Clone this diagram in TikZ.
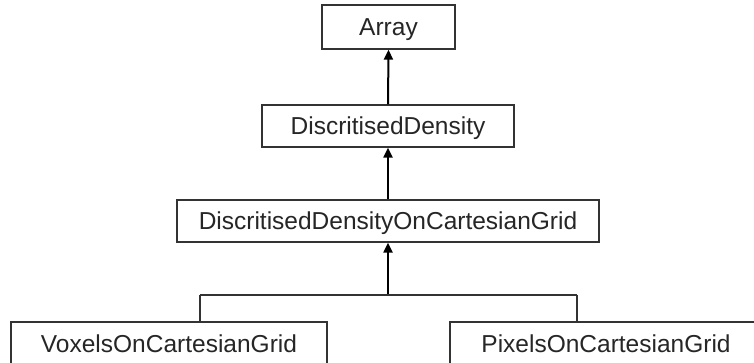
\documentclass[tikz,border=0pt]{standalone}
\usepackage{fontspec}
\setmainfont{Liberation Sans}
\usetikzlibrary{arrows.meta}
\tikzset{
  cls/.style={draw=black!80, line width=1.2pt, fill=white, inner sep=0pt,
    text height=17.5pt, text depth=0pt,
    font=\fontsize{24.5}{28}\selectfont, text=black!85},
  inh/.style={line width=2pt, -{Triangle[length=10pt,width=9pt]}},
  link/.style={draw=black!80, line width=1.2pt}
}
\begin{document}
\begin{tikzpicture}[x=1pt,y=-1pt]
\clip (0,0) rectangle (754,362);
\fill[white] (0,0) rectangle (754,362);
\node[cls, minimum width=133pt, minimum height=44pt] (arr) at (388.5,27) {Array};
\node[cls, minimum width=252pt, minimum height=42pt] (dd) at (388,126) {DiscritisedDensity};
\node[cls, minimum width=422pt, minimum height=42pt] (ddc) at (388,221) {DiscritisedDensityOnCartesianGrid};
\node[cls, minimum width=316pt, minimum height=44pt] (vox) at (169,344) {VoxelsOnCartesianGrid};
\node[cls, minimum width=312pt, minimum height=44pt] (pix) at (606,344) {PixelsOnCartesianGrid};
\coordinate (j) at (388,295);
\coordinate (jl) at (200,295);
\coordinate (jr) at (577,295);
\draw[inh] (dd.north) -- (arr.south);
\draw[inh] (ddc.north) -- (dd.south);
\draw[inh] (j) -- (ddc.south);
\draw[link] (jl) -- (jr);
\draw[link] (jl) -- (jl |- vox.north);
\draw[link] (jr) -- (jr |- pix.north);
\end{tikzpicture}
\end{document}
